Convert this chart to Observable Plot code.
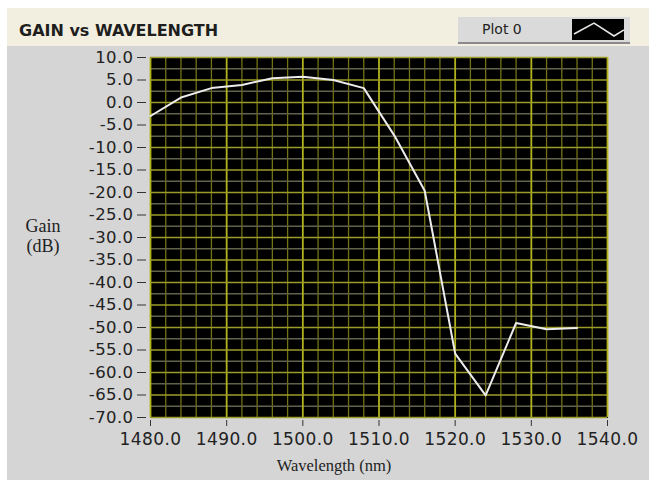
<!DOCTYPE html>
<html>
<head>
<meta charset="utf-8">
<script src="https://cdn.jsdelivr.net/npm/d3@7"></script>
<script src="https://cdn.jsdelivr.net/npm/@observablehq/plot@0.6"></script>
<style>
  html, body { margin: 0; padding: 0; background: #ffffff; }
  #wrap { position: relative; width: 649px; height: 480px; overflow: hidden; background: #ffffff; }
  #panel { position: absolute; left: 7px; top: 8px; width: 642px; height: 472px; background: #d5d5d5; }
  #header { position: absolute; left: 7px; top: 8px; width: 642px; height: 38px; background: #f3efe0; }
  #title { position: absolute; left: 19px; top: 21px; font: bold 16px "DejaVu Sans", sans-serif; color: #1e1e1e; white-space: nowrap; }
  #legend { position: absolute; left: 458px; top: 17px; width: 172px; height: 25px; background: #dadada; border-bottom: 2px solid #8a8a8a; }
  #legend .lab { position: absolute; left: 24px; top: 4px; font: 14px "DejaVu Sans", sans-serif; color: #222; }
  #legend svg { position: absolute; left: 114px; top: 2px; }
  #ylab { position: absolute; left: 12px; top: 216px; width: 62px; text-align: center; font: 18px "Liberation Serif", serif; line-height: 20px; color: #222; }
  #xlab { position: absolute; left: 334px; top: 456px; transform: translateX(-50%); font: 16.5px "Liberation Serif", serif; color: #222; white-space: nowrap; }
  #chart { position: absolute; left: 0; top: 46px; }
</style>
</head>
<body>
<div id="wrap">
  <div id="panel"></div>
  <div id="header"></div>
  <div id="title">GAIN vs WAVELENGTH</div>
  <div id="legend"><span class="lab">Plot 0</span>
    <svg width="52" height="21"><rect width="52" height="21" fill="#000"/><polyline points="2,15 22,4 42,17 52,11" fill="none" stroke="#e8e8e8" stroke-width="1.5"/></svg>
  </div>
  <div id="chart"></div>
  <div id="ylab">Gain<br>(dB)</div>
  <div id="xlab">Wavelength (nm)</div>
</div>
<script>
// Data
const wavelength = [1480, 1484, 1488, 1492, 1496, 1500, 1504, 1508, 1512, 1516, 1520, 1524, 1528, 1532, 1536];
const gain = [-3.0, 1.1, 3.2, 3.9, 5.4, 5.7, 5.0, 3.2, -7.3, -19.6, -55.8, -65.1, -49.0, -50.4, -50.1];
const xTicks = [1480, 1490, 1500, 1510, 1520, 1530, 1540];
const yTicks = [10, 5, 0, -5, -10, -15, -20, -25, -30, -35, -40, -45, -50, -55, -60, -65, -70];
const xMinor = d3.range(1482, 1540, 2).filter(v => !xTicks.includes(v));
const yMinor = d3.range(-67.5, 10, 5);

const data = wavelength.map((w, i) => ({w, g: gain[i]}));

const chart = Plot.plot({
  width: 649,
  height: 434,
  marginLeft: 150,
  marginRight: 42,
  marginTop: 11,
  marginBottom: 63,
  style: {background: "transparent", fontFamily: "DejaVu Sans, sans-serif", color: "#222", letterSpacing: "0.4px"},
  x: {domain: [1480, 1540]},
  y: {domain: [-70, 10]},
  marks: [
    Plot.frame({fill: "#000", stroke: "#000"}),
    Plot.ruleX(xMinor, {stroke: "#727214", strokeWidth: 1.3}),
    Plot.ruleY(yMinor, {stroke: "#62624a", strokeWidth: 1.3}),
    Plot.ruleX(xTicks, {stroke: "#b2b21c", strokeWidth: 1.8}),
    Plot.ruleY(yTicks, {stroke: "#9c9c2a", strokeWidth: 1.7}),
    Plot.line(data, {x: "w", y: "g", stroke: "#ececec", strokeWidth: 2}),
    Plot.axisX({ticks: xTicks, tickFormat: d => d.toFixed(1), tickSize: 6, tickPadding: 6, dy: 3, fontSize: 17, stroke: "#333", label: null}),
    Plot.axisY({ticks: yTicks, tickFormat: d => d.toFixed(1), tickSize: 9, tickPadding: 4, dx: -4, fontSize: 16.5, stroke: "#333", label: null})
  ]
});
document.getElementById("chart").appendChild(chart);
</script>
</body>
</html>
